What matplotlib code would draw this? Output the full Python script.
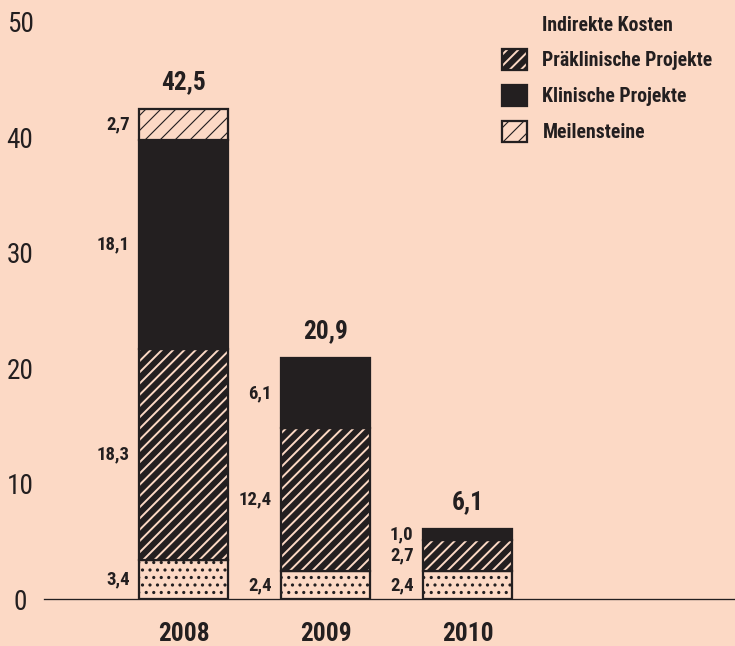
import matplotlib.pyplot as plt
from matplotlib import font_manager as fm
from matplotlib.patches import Patch

# data (Mio. EUR)
years = ['2008', '2009', '2010']
indirekte = [3.4, 2.4, 2.4]
praeklinisch = [18.3, 12.4, 2.7]
klinisch = [18.1, 6.1, 1.0]
meilensteine = [2.7, 0.0, 0.0]
totals = [42.5, 20.9, 6.1]
series_names = ['Indirekte Kosten', 'Präklinische Projekte',
                'Klinische Projekte', 'Meilensteine']
y_ticks = [0, 10, 20, 30, 40, 50]

BG = '#FCD9C5'
DARK = '#231F20'
DPI = 135

# pick a condensed face if one is installed
installed = {f.name for f in fm.fontManager.ttflist}
condensed = sorted({f.name for f in fm.fontManager.ttflist
                    if 'condensed' in str(f.stretch) or 'Narrow' in f.name
                    or 'Condensed' in f.name})
FAMILY = None
for name in ['Liberation Sans Narrow', 'Roboto Condensed', 'DejaVu Sans Condensed',
             'Open Sans Condensed', 'Noto Sans Condensed']:
    if name in installed:
        FAMILY = name
        break
STRETCH = 'normal'
if FAMILY is None and condensed:
    FAMILY = condensed[0]
    STRETCH = 'condensed'
if FAMILY is None:
    FAMILY = 'Roboto' if 'Roboto' in installed else 'DejaVu Sans'

plt.rcParams['font.family'] = [FAMILY, 'DejaVu Sans']
plt.rcParams['font.stretch'] = STRETCH


def fmt(v):
    return f'{v:.1f}'.replace('.', ',')


# fill, hatch, hatch linewidth per series
styles = [
    dict(facecolor=BG, hatch='...', hlw=0.9),
    dict(facecolor=BG, hatch='////', hlw=3.2),
    dict(facecolor=DARK, hatch=None, hlw=1.0),
    dict(facecolor=BG, hatch='///', hlw=0.6),
]

fig = plt.figure(figsize=(735 / DPI, 646 / DPI), dpi=DPI, facecolor=BG)
ax = fig.add_axes([44 / 735, 47 / 646, (735 - 44) / 735, 577 / 646])
ax.set_facecolor(BG)

width = 0.63
x = list(range(len(years)))
bottoms = [0.0] * len(years)

for series, st in zip([indirekte, praeklinisch, klinisch, meilensteine], styles):
    for i, v in enumerate(series):
        if v <= 0:
            continue
        with plt.rc_context({'hatch.linewidth': st['hlw'], 'hatch.color': DARK}):
            bars = ax.bar(x[i], v, width, bottom=bottoms[i], color=st['facecolor'],
                          edgecolor=DARK, linewidth=1.2, hatch=st['hatch'], zorder=2)
        for b in bars:
            if hasattr(b, 'set_hatch_linewidth'):
                b.set_hatch_linewidth(st['hlw'])
        ax.annotate(fmt(v), (x[i] - width / 2, bottoms[i] + v / 2),
                    xytext=(-5, 0), textcoords='offset points',
                    ha='right', va='center', fontsize=10,
                    fontweight='bold', color=DARK)
        bottoms[i] += v

# totals above bars
for i, t in enumerate(totals):
    ax.annotate(fmt(t), (x[i], bottoms[i]), xytext=(0, 14),
                textcoords='offset points', ha='center', va='center',
                fontsize=13.5, fontweight='bold', color=DARK)

ax.set_xlim(-0.985, 3.884)
ax.set_ylim(0, 50)
ax.set_yticks(y_ticks)
ax.set_yticklabels([str(t) for t in y_ticks], fontsize=14.5, color=DARK, ha='center')
ax.set_xticks(x)
ax.set_xticklabels(years, fontsize=13.5, fontweight='bold', color=DARK)
ax.tick_params(axis='y', length=0, pad=12.8)
ax.tick_params(axis='x', length=0, pad=12.5)

for s in ['top', 'right', 'left']:
    ax.spines[s].set_visible(False)
ax.spines['bottom'].set_color(DARK)
ax.spines['bottom'].set_linewidth(0.7)

# legend
handles = [Patch(facecolor='none', edgecolor='none')]
for st in styles[1:]:
    handles.append(Patch(facecolor=st['facecolor'], edgecolor=DARK,
                         linewidth=1.2, hatch=st['hatch']))
leg = fig.legend(handles, series_names, loc='upper left',
                 bbox_to_anchor=(501.7 / 735, 1 - 13.5 / 646),
                 bbox_transform=fig.transFigure, frameon=False,
                 borderpad=0, borderaxespad=0,
                 handlelength=1.27, handleheight=1.27,
                 handletextpad=0.8, labelspacing=0.74,
                 prop=dict(size=10.5, weight='bold'))
for t in leg.get_texts():
    t.set_color(DARK)
for p, st in zip(leg.get_patches(), styles):
    if hasattr(p, 'set_hatch_linewidth'):
        p.set_hatch_linewidth(st['hlw'])

fig.savefig('out.png', dpi=DPI, facecolor=BG)
